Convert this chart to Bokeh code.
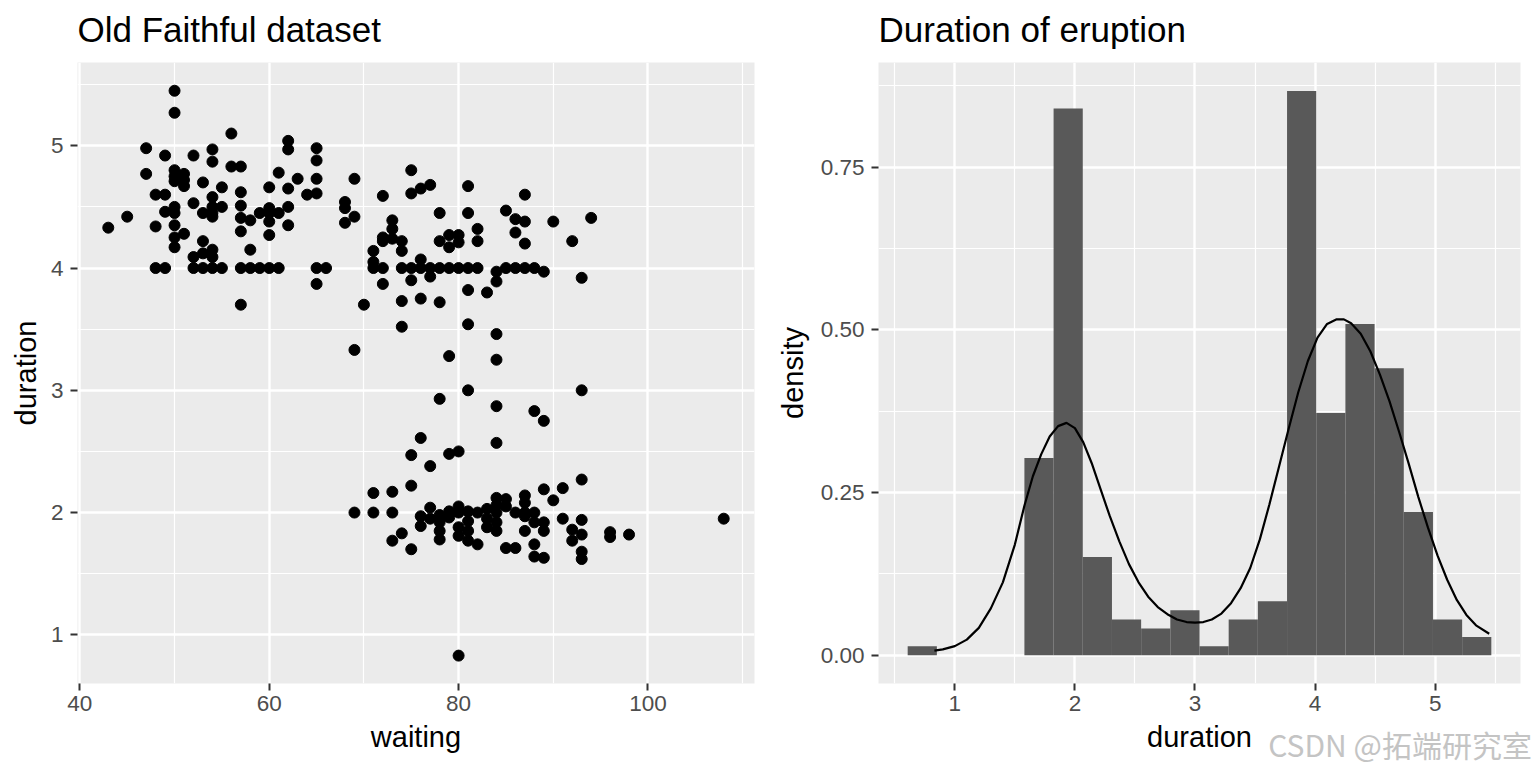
from bokeh.plotting import figure
from bokeh.layouts import row
from bokeh.models import FixedTicker, Range1d, NumeralTickFormatter
from bokeh.core.properties import value
from bokeh.embed import file_html
from bokeh.resources import INLINE
import numpy as np

# ---------------- data ----------------
waiting = [
    43, 45, 47, 47, 48, 48, 48, 49, 49, 49, 49,
    50, 50, 50, 50, 50, 50, 50, 50, 50, 50,
    51, 51, 51, 51, 52, 52, 52, 52, 53, 53, 53, 53, 53,
    54, 54, 54, 54, 54, 54, 54, 54, 54, 55, 55, 55, 56, 56,
    57, 57, 57, 57, 57, 57, 57, 58, 58, 58, 59, 59,
    60, 60, 60, 60, 60, 60, 61, 61, 61, 62, 62, 62, 62, 62, 63, 64,
    65, 65, 65, 65, 65, 65, 66, 68, 68, 68, 69, 69, 69, 69, 70,
    71, 71, 71, 71, 71, 72, 72, 72, 72, 72, 73, 73, 73, 73, 73, 73,
    74, 74, 74, 74, 74, 74, 75, 75, 75, 75, 75, 75, 75,
    76, 76, 76, 76, 76, 76, 76, 77, 77, 77, 77, 77, 77,
    78, 78, 78, 78, 78, 78, 78, 78, 78, 79, 79, 79, 79, 79, 79, 79,
    80, 80, 80, 80, 80, 80, 80, 80, 80,
    81, 81, 81, 81, 81, 81, 81, 81, 81, 81, 82, 82, 82, 82, 82, 83, 83, 83, 83,
    84, 84, 84, 84, 84, 84, 84, 84, 84, 84, 84, 85, 85, 85, 85, 85, 86, 86, 86, 86, 86,
    87, 87, 87, 87, 87, 87, 87, 87, 87, 88, 88, 88, 88, 88, 88, 89, 89, 89, 89, 89, 89,
    90, 90, 91, 91, 92, 92, 92, 93, 93, 93, 93, 93, 93, 93, 94, 96, 96, 98, 108,
]
duration = [
    4.33, 4.42, 4.98, 4.77, 4.60, 4.34, 4.00, 4.92, 4.60, 4.46, 4.00,
    5.45, 5.27, 4.80, 4.75, 4.71, 4.50, 4.45, 4.35, 4.25, 4.17,
    4.77, 4.72, 4.67, 4.28, 4.92, 4.53, 4.09, 4.00, 4.70, 4.45, 4.22, 4.12, 4.00,
    4.97, 4.87, 4.58, 4.50, 4.45, 4.42, 4.15, 4.09, 4.00, 4.66, 4.50, 4.00, 5.10, 4.83,
    4.83, 4.62, 4.51, 4.41, 4.30, 4.00, 3.70, 4.39, 4.15, 4.00, 4.45, 4.00,
    4.66, 4.49, 4.45, 4.38, 4.27, 4.00, 4.78, 4.45, 4.00, 5.04, 4.97, 4.65, 4.50, 4.35, 4.73, 4.60,
    4.98, 4.88, 4.73, 4.61, 4.00, 3.87, 4.00, 4.54, 4.49, 4.37, 4.73, 4.42, 3.33, 2.00, 3.70,
    4.14, 4.05, 4.00, 2.16, 2.00, 4.59, 4.25, 4.22, 4.00, 3.87, 4.39, 4.32, 4.24, 2.17, 2.00, 1.77,
    4.22, 4.14, 4.00, 3.73, 3.52, 1.83, 4.80, 4.61, 4.00, 3.90, 2.47, 2.22, 1.70,
    4.65, 4.07, 4.00, 3.75, 2.61, 1.97, 1.89, 4.68, 4.00, 3.93, 2.38, 2.04, 1.95,
    4.45, 4.22, 4.00, 3.72, 2.93, 1.98, 1.92, 1.85, 1.78, 4.27, 4.17, 4.00, 3.28, 2.48, 2.01, 1.96,
    4.27, 4.21, 4.00, 2.50, 2.05, 2.00, 1.88, 1.81, 0.83,
    4.67, 4.45, 4.00, 3.82, 3.54, 3.00, 2.01, 1.93, 1.85, 1.77, 4.32, 4.22, 4.00, 2.00, 1.74, 3.80, 2.03, 1.95, 1.88,
    3.97, 3.89, 3.46, 3.25, 2.87, 2.57, 2.12, 2.06, 2.00, 1.92, 1.85, 4.47, 4.00, 2.11, 2.05, 1.71, 4.40, 4.29, 4.00, 2.00, 1.71,
    4.60, 4.38, 4.20, 4.00, 2.14, 2.08, 2.00, 1.97, 1.85, 4.00, 2.83, 2.00, 1.92, 1.74, 1.64, 3.97, 2.75, 2.19, 1.92, 1.85, 1.63,
    4.38, 2.10, 2.20, 1.95, 4.22, 1.86, 1.77, 3.92, 3.00, 2.27, 1.94, 1.82, 1.68, 1.62, 4.41, 1.84, 1.80, 1.82, 1.95,
]

# histogram of duration (density per bin), 20 bins
hist_start = 0.6075
hist_width = 0.243
hist_density = [0.0138, 0.0, 0.0, 0.0, 0.303, 0.840, 0.151, 0.055, 0.041, 0.069,
                0.0138, 0.055, 0.083, 0.867, 0.372, 0.509, 0.441, 0.220, 0.055, 0.028]

# density curve
kde_x = [0.83, 0.90, 1.00, 1.10, 1.20, 1.30, 1.40, 1.50, 1.58, 1.65, 1.72, 1.79,
         1.86, 1.93, 2.00, 2.07, 2.14, 2.21, 2.29, 2.37, 2.45, 2.53, 2.61, 2.69,
         2.77, 2.85, 2.93, 3.00, 3.07, 3.14, 3.22, 3.30, 3.38, 3.46, 3.54, 3.62,
         3.70, 3.78, 3.86, 3.94, 4.02, 4.10, 4.18, 4.24, 4.30, 4.38, 4.46, 4.54,
         4.62, 4.70, 4.78, 4.86, 4.94, 5.02, 5.10, 5.18, 5.26, 5.34, 5.45]
kde_y = [0.007, 0.009, 0.014, 0.024, 0.042, 0.072, 0.112, 0.170, 0.230, 0.275, 0.309, 0.336,
         0.352, 0.357, 0.349, 0.327, 0.295, 0.257, 0.214, 0.175, 0.140, 0.112, 0.090, 0.074,
         0.063, 0.055, 0.051, 0.050, 0.051, 0.055, 0.064, 0.080, 0.103, 0.134, 0.178, 0.232,
         0.290, 0.348, 0.404, 0.452, 0.488, 0.509, 0.516, 0.516, 0.510, 0.494, 0.467, 0.431,
         0.390, 0.343, 0.294, 0.243, 0.196, 0.153, 0.116, 0.085, 0.062, 0.046, 0.033]

left_xticks = [40, 60, 80, 100]
left_yticks = [1, 2, 3, 4, 5]
right_xticks = [1, 2, 3, 4, 5]
right_yticks = [0.0, 0.25, 0.5, 0.75]
left_title = "Old Faithful dataset"
right_title = "Duration of eruption"
watermark = "CSDN @拓端研究室"

FONT = "Liberation Sans"
W, H = 768, 768
B_TOP, B_BOTTOM = 62, 85
TITLE_GAP = 33  # px between title centre line and panel top


def style(p, ylab_standoff):
    p.background_fill_color = "#EBEBEB"
    p.border_fill_color = "white"
    p.outline_line_color = None
    for ax in (p.xaxis[0], p.yaxis[0]):
        ax.axis_line_color = None
        ax.major_tick_line_color = "#333333"
        ax.major_tick_line_width = 2
        ax.major_tick_in = 0
        ax.major_tick_out = 7
        ax.minor_tick_in = 0
        ax.minor_tick_out = 0
        ax.major_label_text_font = FONT
        ax.major_label_text_font_size = "22.5px"
        ax.major_label_text_color = "#4D4D4D"
        ax.axis_label_text_font = FONT
        ax.axis_label_text_font_size = "29px"
        ax.axis_label_text_font_style = "normal"
        ax.axis_label_text_color = "black"
    p.xaxis[0].major_label_standoff = 5
    p.yaxis[0].major_label_standoff = 7
    p.xaxis[0].axis_label_standoff = 7
    p.yaxis[0].axis_label_standoff = ylab_standoff
    for g in (p.xgrid[0], p.ygrid[0]):
        g.grid_line_color = "white"
        g.grid_line_width = 2.4
        g.minor_grid_line_color = "white"
        g.minor_grid_line_width = 1.2


def add_title(p, text):
    # title drawn as an overlay text glyph, left-aligned with the panel
    xr, yr = p.x_range, p.y_range
    px_per_unit = (H - B_TOP - B_BOTTOM) / (yr.end - yr.start)
    p.text(x=[xr.start], y=[yr.end + TITLE_GAP / px_per_unit], text=[text],
           text_font=value(FONT), text_font_size="35px", text_color="black",
           text_baseline="middle", text_align="left", level="overlay")


# ---------------- left: scatter ----------------
p1 = figure(width=W, height=H, output_backend="svg", toolbar_location=None,
            x_range=Range1d(39.75, 111.25), y_range=Range1d(0.602, 5.681),
            min_border_left=77, min_border_right=14, min_border_top=B_TOP, min_border_bottom=B_BOTTOM)
p1.xaxis.ticker = FixedTicker(ticks=left_xticks, minor_ticks=[50, 70, 90, 110])
p1.yaxis.ticker = FixedTicker(ticks=left_yticks, minor_ticks=[1.5, 2.5, 3.5, 4.5, 5.5])
p1.xaxis.axis_label = "waiting"
p1.yaxis.axis_label = "duration"
style(p1, 6)
p1.scatter(x=waiting, y=duration, marker="circle", size=11, color="black")
add_title(p1, left_title)

# ---------------- right: histogram + density ----------------
p2 = figure(width=W, height=H, output_backend="svg", toolbar_location=None,
            x_range=Range1d(0.3645, 5.7105), y_range=Range1d(-0.0434, 0.9106),
            min_border_left=110, min_border_right=16, min_border_top=B_TOP, min_border_bottom=B_BOTTOM)
p2.xaxis.ticker = FixedTicker(ticks=right_xticks, minor_ticks=[0.5, 1.5, 2.5, 3.5, 4.5, 5.5])
p2.yaxis.ticker = FixedTicker(ticks=right_yticks, minor_ticks=[0.125, 0.375, 0.625, 0.875])
p2.yaxis.formatter = NumeralTickFormatter(format="0.00")
p2.xaxis.axis_label = "duration"
p2.yaxis.axis_label = "density"
style(p2, 9)

edges = hist_start + hist_width * np.arange(len(hist_density) + 1)
p2.quad(left=edges[:-1], right=edges[1:], bottom=0, top=hist_density,
        fill_color="#595959", line_color=None)
p2.line(x=kde_x, y=kde_y, line_color="black", line_width=2.2)
add_title(p2, right_title)

# watermark (overlay-level text so that it may sit outside the panel)
p2.text(x=[3.61], y=[-0.136], text=[watermark], text_font=value("Noto Sans CJK SC"),
        text_font_size="30px", text_color="#C4C4C4", text_baseline="middle",
        text_align="left", level="overlay")

layout = row(p1, p2)
open("out.html", "w").write(file_html(layout, INLINE))
